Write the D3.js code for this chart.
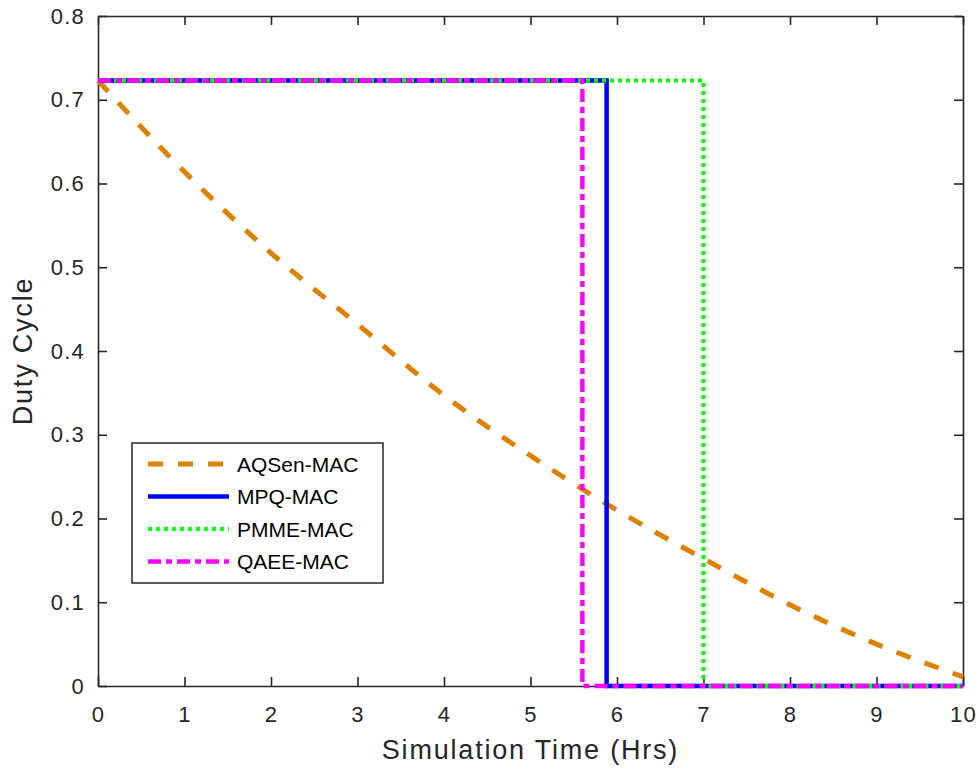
<!DOCTYPE html>
<html>
<head>
<meta charset="utf-8">
<script src="https://cdn.jsdelivr.net/npm/d3@7"></script>
<style>
  body { margin: 0; background: #fff; }
  svg { display: block; font-family: Arial, "Liberation Sans", sans-serif; }
</style>
</head>
<body>
<div id="chart"></div>
<script>
// 数据
const timeTicks = [0, 1, 2, 3, 4, 5, 6, 7, 8, 9, 10];
const dutyTicks = [0, 0.1, 0.2, 0.3, 0.4, 0.5, 0.6, 0.7, 0.8];

const aqsenTime = [0, 1, 2, 3, 4, 5, 6, 7, 8, 9, 10];
const aqsenDuty = [0.723, 0.614, 0.517, 0.432, 0.347, 0.275, 0.21, 0.152, 0.097, 0.05, 0.011];

const mpqTime = [0, 5.88, 5.88, 10];
const mpqDuty = [0.723, 0.723, 0, 0];

const pmmeTime = [0, 7, 7, 10];
const pmmeDuty = [0.723, 0.723, 0, 0];

const qaeeTime = [0, 5.6, 5.6, 10];
const qaeeDuty = [0.723, 0.723, 0, 0];

const seriesNames = ['AQSen-MAC', 'MPQ-MAC', 'PMME-MAC', 'QAEE-MAC'];

// 样式
const styles = [
    { color: '#e08000', dash: '15,15', width: 5 },
    { color: '#0000ff', dash: null, width: 4.5 },
    { color: '#00ff00', dash: '4,4', width: 4 },
    { color: '#ff00ff', dash: '13,5,6,5', width: 4.5 }
];

const width = 980, height = 776;
const margin = { left: 98, right: 17, top: 16, bottom: 90 };
const axisColor = '#262626';

const svg = d3.select('#chart').append('svg')
    .attr('width', width)
    .attr('height', height);

const x = d3.scaleLinear().domain([0, 10]).range([margin.left, width - margin.right]);
const y = d3.scaleLinear().domain([0, 0.8]).range([height - margin.bottom, margin.top]);

// 坐标轴 (刻度朝内)
const tickLen = 9;
const xAxis = svg.append('g')
    .attr('transform', `translate(0,${y(0)})`)
    .call(d3.axisBottom(x).tickValues(timeTicks).tickSizeInner(-tickLen).tickSizeOuter(0).tickPadding(20).tickFormat(d3.format('d')));
const xTop = svg.append('g')
    .attr('transform', `translate(0,${y(0.8)})`)
    .call(d3.axisTop(x).tickValues(timeTicks).tickSizeInner(-tickLen).tickSizeOuter(0).tickFormat(''));
const yAxis = svg.append('g')
    .attr('transform', `translate(${x(0)},0)`)
    .call(d3.axisLeft(y).tickValues(dutyTicks).tickSizeInner(-tickLen).tickSizeOuter(0).tickPadding(13).tickFormat(d => d === 0 ? '0' : d3.format('.1f')(d)));
const yRight = svg.append('g')
    .attr('transform', `translate(${x(10)},0)`)
    .call(d3.axisRight(y).tickValues(dutyTicks).tickSizeInner(-tickLen).tickSizeOuter(0).tickFormat(''));

[xAxis, xTop, yAxis, yRight].forEach(g => {
    g.select('.domain').attr('stroke', axisColor).attr('stroke-width', 1.6);
    g.selectAll('.tick line').attr('stroke', axisColor).attr('stroke-width', 1.6);
    g.selectAll('.tick text')
        .attr('fill', axisColor)
        .style('font-size', '22px')
        .style('letter-spacing', '1.2px')
        .style('font-family', 'Arial, "Liberation Sans", sans-serif');
});

// 曲线
const line = d3.line().x(d => x(d[0])).y(d => y(d[1]));
const seriesData = [
    d3.zip(aqsenTime, aqsenDuty),
    d3.zip(mpqTime, mpqDuty),
    d3.zip(pmmeTime, pmmeDuty),
    d3.zip(qaeeTime, qaeeDuty)
];

seriesData.forEach((pts, i) => {
    const st = styles[i];
    svg.append('path')
        .datum(pts)
        .attr('d', i === 0 ? line.curve(d3.curveMonotoneX)(pts) : line.curve(d3.curveLinear)(pts))
        .attr('fill', 'none')
        .attr('stroke', st.color)
        .attr('stroke-width', st.width)
        .attr('stroke-dasharray', st.dash);
});

// 轴标题
svg.append('text')
    .attr('x', (x(0) + x(10)) / 2)
    .attr('y', 759)
    .attr('text-anchor', 'middle')
    .attr('fill', axisColor)
    .style('font-size', '27px')
    .style('letter-spacing', '1.8px')
    .text('Simulation Time (Hrs)');

svg.append('text')
    .attr('transform', `translate(32,${y(0.4)}) rotate(-90)`)
    .attr('text-anchor', 'middle')
    .attr('fill', axisColor)
    .style('font-size', '27px')
    .style('letter-spacing', '1.8px')
    .text('Duty Cycle');

// 图例
const legend = svg.append('g').attr('transform', 'translate(132,443)');
legend.append('rect')
    .attr('width', 251)
    .attr('height', 140)
    .attr('fill', '#fff')
    .attr('stroke', axisColor)
    .attr('stroke-width', 1.5);

seriesNames.forEach((name, i) => {
    const st = styles[i];
    const rowY = 21 + i * 32.5;
    legend.append('line')
        .attr('x1', 16).attr('x2', 97)
        .attr('y1', rowY).attr('y2', rowY)
        .attr('stroke', st.color)
        .attr('stroke-width', st.width)
        .attr('stroke-dasharray', st.dash);
    legend.append('text')
        .attr('x', 105)
        .attr('y', rowY)
        .attr('dy', '0.36em')
        .attr('fill', '#000')
        .style('font-size', '21px')
        .text(name);
});
</script>
</body>
</html>
